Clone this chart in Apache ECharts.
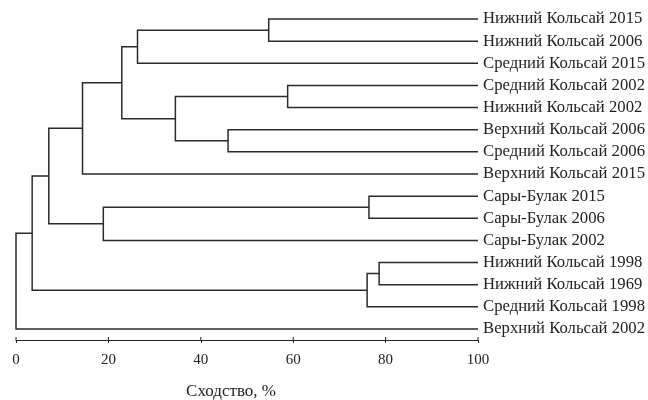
<!DOCTYPE html>
<html><head><meta charset="utf-8">
<script src="https://cdn.jsdelivr.net/npm/echarts@6/dist/echarts.min.js"></script>
<style>html,body{margin:0;padding:0;background:#fff}#c{width:648px;height:400px}</style>
</head><body><div id="c"></div>
<script>
const leaves = [
  'Нижний Кольсай 2015','Нижний Кольсай 2006','Средний Кольсай 2015',
  'Средний Кольсай 2002','Нижний Кольсай 2002','Верхний Кольсай 2006',
  'Средний Кольсай 2006','Верхний Кольсай 2015','Сары-Булак 2015',
  'Сары-Булак 2006','Сары-Булак 2002','Нижний Кольсай 1998',
  'Нижний Кольсай 1969','Средний Кольсай 1998','Верхний Кольсай 2002'
];
// merges: node ids < 15 are leaves, 15+k is the k-th merge
const mergeLeft   = [0, 15, 3, 5, 17, 16, 20, 8, 22, 21, 11, 25, 24, 27];
const mergeRight  = [1, 2, 4, 6, 18, 19, 7, 9, 10, 23, 12, 13, 26, 14];
const mergeHeight = [54.7, 26.3, 58.8, 45.9, 34.5, 22.9, 14.4, 76.4, 18.9, 7.1, 78.6, 76.0, 3.5, 0];
const xTicks = [0, 20, 40, 60, 80, 100];
const leafHeight = 100;
const axisTitle = 'Сходство, %';

const n = leaves.length;
const nodeX = [], nodeY = [];
for (let i = 0; i < n; i++) { nodeX[i] = leafHeight; nodeY[i] = i; }
const segs = [];
mergeLeft.forEach((l, k) => {
  const r = mergeRight[k], h = mergeHeight[k];
  segs.push({ coords: [[nodeX[l], nodeY[l]], [h, nodeY[l]], [h, nodeY[r]], [nodeX[r], nodeY[r]]] });
  nodeX[n + k] = h;
  nodeY[n + k] = (nodeY[l] + nodeY[r]) / 2;
});

const font = 'Liberation Serif';
const ink = '#222';
const chart = echarts.init(document.getElementById('c'), null, { renderer: 'canvas' });
chart.setOption({
  animation: false,
  backgroundColor: '#fff',
  grid: { left: 16, top: 8, width: 462, height: 332, containLabel: false, outerBoundsMode: 'none' },
  xAxis: {
    type: 'value', min: xTicks[0], max: xTicks[xTicks.length - 1],
    interval: xTicks[1] - xTicks[0], position: 'bottom', splitLine: { show: false },
    axisLine: { show: true, onZero: false, lineStyle: { color: ink, width: 1 } },
    axisTick: { show: true, length: 3, lineStyle: { color: ink, width: 1 } },
    axisLabel: { margin: 13, color: ink, fontFamily: font, fontSize: 15 },
    name: axisTitle, nameLocation: 'middle', nameGap: 43,
    nameTextStyle: { color: ink, fontFamily: font, fontSize: 17, padding: [0, 32, 0, 0] }
  },
  yAxis: [
    { type: 'value', min: -0.5, max: n - 0.5, inverse: true, show: false,
      axisLine: { onZero: false } },
    {
      type: 'category', data: leaves, inverse: true, position: 'right', boundaryGap: true,
      axisLine: { show: false, onZero: false }, axisTick: { show: false }, splitLine: { show: false },
      axisLabel: { interval: 0, margin: 5, color: ink, fontFamily: font, fontSize: 16.7, hideOverlap: false }
    }
  ],
  series: [
    {
      type: 'lines', coordinateSystem: 'cartesian2d', xAxisIndex: 0, yAxisIndex: 0,
      polyline: true, silent: true, data: segs,
      lineStyle: { color: '#2a2a2a', width: 1.5, opacity: 1 }
    },
    {
      // upper half of the axis ticks (ticks cross the axis line)
      type: 'custom', coordinateSystem: 'cartesian2d', xAxisIndex: 0, yAxisIndex: 0,
      silent: true, data: xTicks.map(t => [t, n - 0.5]),
      renderItem: function (params, api) {
        const p = api.coord([api.value(0), api.value(1)]);
        return { type: 'line', shape: { x1: p[0], y1: p[1], x2: p[0], y2: p[1] - 3 },
                 style: { stroke: ink, lineWidth: 1 } };
      }
    }
  ]
});
</script></body></html>
